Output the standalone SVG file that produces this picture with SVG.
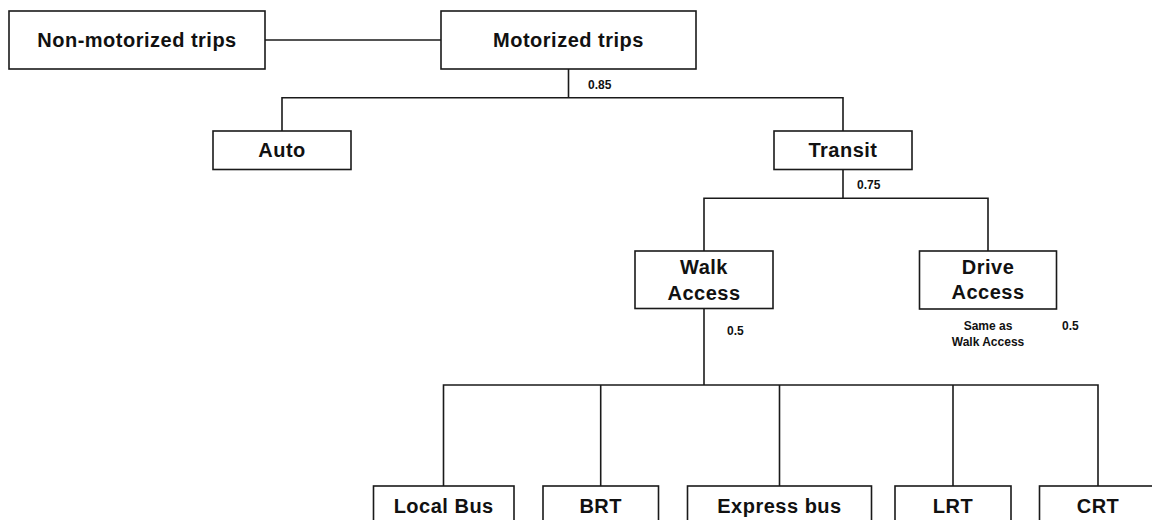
<svg xmlns="http://www.w3.org/2000/svg" width="1152" height="520" viewBox="0 0 1152 520">
  <style>
    .box { fill: #ffffff; stroke: #1a1a1a; stroke-width: 1.6; }
    .lbl { font-family: "Liberation Sans", Arial, sans-serif; font-weight: bold; font-size: 20px; letter-spacing: 0.5px; fill: #111; text-anchor: middle; }
    .coef { font-family: "Liberation Sans", Arial, sans-serif; font-weight: bold; font-size: 12px; fill: #111; }
    .note { font-family: "Liberation Sans", Arial, sans-serif; font-weight: bold; font-size: 12px; fill: #111; text-anchor: middle; }
    .conn { fill: none; stroke: #1a1a1a; stroke-width: 1.6; }
  </style>
  <rect width="1152" height="520" fill="#ffffff"/>

  <!-- connectors -->
  <g id="connectors" class="conn">
    <line x1="265" y1="40" x2="441" y2="40"/>
    <polyline points="568.5,69 568.5,97.7"/>
    <polyline points="282,131 282,97.7 843,97.7 843,131"/>
    <polyline points="843,170 843,198.3"/>
    <polyline points="704,251 704,198.3 988,198.3 988,251"/>
    <polyline points="704,308.5 704,385"/>
    <polyline points="443.5,486 443.5,385 1098,385 1098,486"/>
    <line x1="600.7" y1="385" x2="600.7" y2="486"/>
    <line x1="779.5" y1="385" x2="779.5" y2="486"/>
    <line x1="953" y1="385" x2="953" y2="486"/>
  </g>

  <!-- level-one nodes -->
  <g id="non-motorized">
    <rect class="box" x="9" y="11" width="256" height="58"/>
    <text class="lbl" x="137" y="47">Non-motorized trips</text>
  </g>
  <g id="motorized">
    <rect class="box" x="441" y="11" width="255" height="58"/>
    <text class="lbl" x="568.5" y="47">Motorized trips</text>
    <text class="coef" x="588" y="89">0.85</text>
  </g>

  <!-- mode nodes -->
  <g id="auto">
    <rect class="box" x="213" y="131" width="138" height="38.5"/>
    <text class="lbl" x="282" y="157">Auto</text>
  </g>
  <g id="transit">
    <rect class="box" x="774" y="131" width="138" height="38.5"/>
    <text class="lbl" x="843" y="157">Transit</text>
    <text class="coef" x="857" y="188.5">0.75</text>
  </g>

  <!-- access nodes -->
  <g id="walk-access">
    <rect class="box" x="635" y="251" width="138" height="57.5"/>
    <text class="lbl" x="704" y="274">Walk</text>
    <text class="lbl" x="704" y="300">Access</text>
    <text class="coef" x="727" y="335">0.5</text>
  </g>
  <g id="drive-access">
    <rect class="box" x="919.5" y="251" width="137" height="58"/>
    <text class="lbl" x="988" y="274">Drive</text>
    <text class="lbl" x="988" y="299">Access</text>
    <text class="note" x="988" y="330">Same as</text>
    <text class="note" x="988" y="345.5">Walk Access</text>
    <text class="coef" x="1062" y="330">0.5</text>
  </g>

  <!-- submode nodes -->
  <g id="local-bus">
    <rect class="box" x="373.5" y="486" width="140.5" height="38"/>
    <text class="lbl" x="443.7" y="513">Local Bus</text>
  </g>
  <g id="brt">
    <rect class="box" x="543" y="486" width="115.5" height="38"/>
    <text class="lbl" x="600.7" y="513">BRT</text>
  </g>
  <g id="express-bus">
    <rect class="box" x="687.5" y="486" width="184" height="38"/>
    <text class="lbl" x="779.5" y="513">Express bus</text>
  </g>
  <g id="lrt">
    <rect class="box" x="895" y="486" width="116" height="38"/>
    <text class="lbl" x="953" y="513">LRT</text>
  </g>
  <g id="crt">
    <rect class="box" x="1039.5" y="486" width="117" height="38"/>
    <text class="lbl" x="1098" y="513">CRT</text>
  </g>
</svg>
